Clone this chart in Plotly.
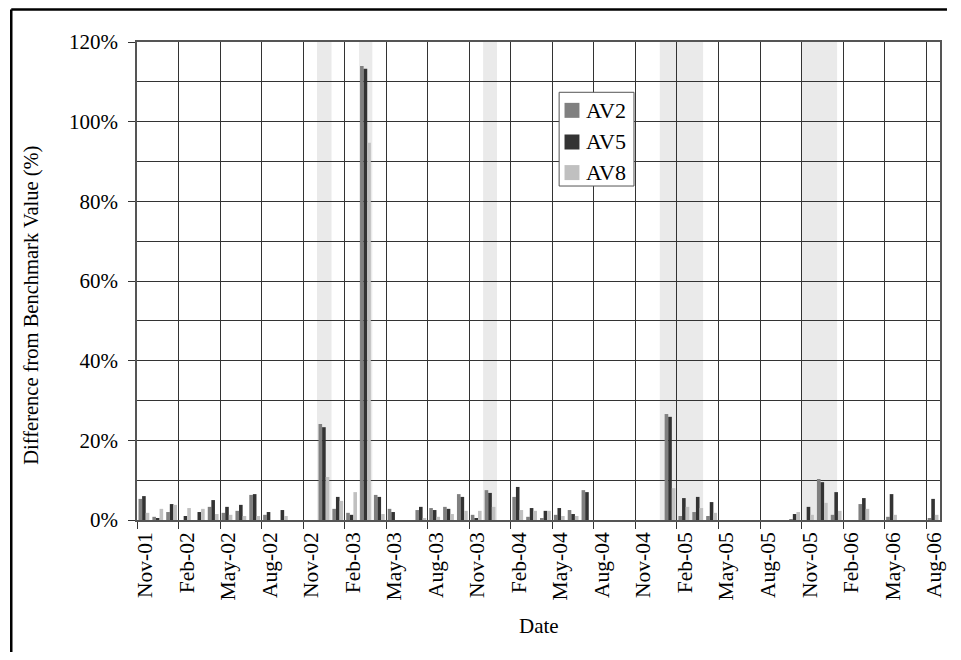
import plotly.graph_objects as go

# ---- data ----
tick_labels = ["Nov-01", "Feb-02", "May-02", "Aug-02", "Nov-02", "Feb-03", "May-03",
               "Aug-03", "Nov-03", "Feb-04", "May-04", "Aug-04", "Nov-04", "Feb-05",
               "May-05", "Aug-05", "Nov-05", "Feb-06", "May-06", "Aug-06"]

# month index: 0 = Nov-01 ... 57 = Aug-06
month_idx = list(range(58))

av2 = [5.3, 0.8, 2.0, None, None, 3.3, 1.8, 2.3, 6.3, 1.3,
       None, None, None, 24.1, 2.8, 1.8, 114.0, 6.3, 2.8, None,
       2.5, 3.0, 3.3, 6.5, 1.3, 7.5, None, 5.8, 0.8, 0.5,
       1.3, 2.5, 7.5, None, None, None, None, None, 26.6, 1.0,
       2.0, 1.0, None, None, None, None, None, 0.25, None, 10.3,
       1.3, None, 4.0, None, 0.8, None, None, 0.5]

av5 = [6.0, 0.5, 4.0, 1.0, 2.0, 5.0, 3.3, 3.8, 6.5, 2.0,
       2.5, None, None, 23.3, 5.8, 1.3, 113.3, 5.8, 2.0, None,
       3.3, 2.5, 2.8, 5.8, 0.5, 6.8, None, 8.3, 3.0, 2.3,
       3.0, 1.5, 7.0, None, None, None, None, None, 25.9, 5.5,
       5.8, 4.5, None, None, None, None, None, 1.5, 3.3, 9.5,
       7.0, None, 5.5, None, 6.5, None, None, 5.3]

av8 = [1.8, 2.8, 3.8, 3.0, 2.8, 1.5, 1.3, 1.0, 1.0, None,
       1.0, None, None, 10.8, 4.8, 7.0, 94.7, 1.5, None, None,
       0.5, 0.8, 1.5, 2.3, 2.3, 3.3, None, 2.5, 2.3, 2.3,
       1.0, 1.0, None, None, None, None, None, None, 8.0, 3.3,
       3.0, 1.8, None, None, None, None, None, 2.0, 1.3, 4.3,
       2.3, None, 2.8, None, 1.3, None, None, 1.3]

series_names = ["AV2", "AV5", "AV8"]
series_colors = ["#808080", "#333333", "#c0c0c0"]

# shaded periods (in month-index units)
shade_start = [12.5, 15.54, 24.5, 37.26, 47.53]
shade_end = [13.55, 16.5, 25.5, 40.39, 50.07]

FONT = "Liberation Serif"

fig = go.Figure()
for name, vals, col in zip(series_names, [av2, av5, av8], series_colors):
    fig.add_trace(go.Bar(x=month_idx, y=vals, name=name, marker_color=col,
                         marker_line_width=0, showlegend=False))

for s, e in zip(shade_start, shade_end):
    fig.add_vrect(x0=s, x1=e, fillcolor="#eaeaea", line_width=0, layer="below")

# outer frame: only its top and left edges fall inside the picture
FX, FY = -0.1566, 1.068
fig.add_shape(type="line", xref="paper", yref="paper", x0=FX, x1=1.0087, y0=FY, y1=FY,
              line=dict(color="black", width=2.5))
fig.add_shape(type="line", xref="paper", yref="paper", x0=FX, x1=FX, y0=-0.276, y1=FY,
              line=dict(color="black", width=2.5))

# legend box (drawn in paper coordinates)
LX0, LX1, LY0, LY1 = 0.5257, 0.6189, 0.6987, 0.8948
fig.add_shape(type="rect", xref="paper", yref="paper", x0=LX0, x1=LX1, y0=LY0, y1=LY1,
              line=dict(color="#555", width=1), fillcolor="white", layer="above")
row_y = [0.857, 0.7908, 0.7268]
half = 7.5 / 478
for name, col, ry in zip(series_names, series_colors, row_y):
    fig.add_shape(type="rect", xref="paper", yref="paper",
                  x0=0.5324, x1=0.5510, y0=ry - half, y1=ry + half,
                  line_width=0, fillcolor=col, layer="above")
    fig.add_annotation(text=name, xref="paper", yref="paper", x=0.5568, y=ry,
                       xanchor="left", yanchor="middle", showarrow=False,
                       font=dict(family=FONT, size=22, color="black"))

tickvals = [3 * i - 0.5 for i in range(len(tick_labels))]

fig.update_layout(
    width=945, height=644,
    margin=dict(l=129, r=7, t=34, b=132),
    paper_bgcolor="white", plot_bgcolor="white",
    font=dict(family=FONT, size=21, color="black"),
    barmode="group", bargap=0.22, bargroupgap=0,
    showlegend=False,
    xaxis=dict(range=[-0.5, 57.5], tickmode="array", tickvals=tickvals,
               ticktext=tick_labels, tickangle=-90, ticks="outside",
               ticklen=7, tickcolor="#333", showgrid=True, gridcolor="#333",
               gridwidth=1, showline=True, linecolor="#555", linewidth=1.5,
               mirror=True, zeroline=False, ticklabelshift=8,
               ticklabelstandoff=-5,
               tickfont=dict(family=FONT, size=21.5)),
    yaxis=dict(range=[0, 120], tick0=0, dtick=20, ticksuffix="%",
               ticks="outside", ticklen=7, tickcolor="#333",
               showgrid=True, gridcolor="#333", gridwidth=1,
               minor=dict(dtick=10, showgrid=True, gridcolor="#333", ticks=""),
               showline=True, linecolor="#555", linewidth=1.5, mirror=True,
               zeroline=False, ticklabelstandoff=6,
               tickfont=dict(family=FONT, size=21)),
)

fig.add_annotation(text="Difference from Benchmark Value (%)", textangle=-90,
                   xref="paper", yref="paper", x=-0.131, y=0.45,
                   xanchor="center", yanchor="middle", showarrow=False,
                   font=dict(family=FONT, size=20.5))
fig.add_annotation(text="Date", xref="paper", yref="paper", x=0.5, y=-0.2218,
                   xanchor="center", yanchor="middle", showarrow=False,
                   font=dict(family=FONT, size=21))

fig.write_html("out.html")
